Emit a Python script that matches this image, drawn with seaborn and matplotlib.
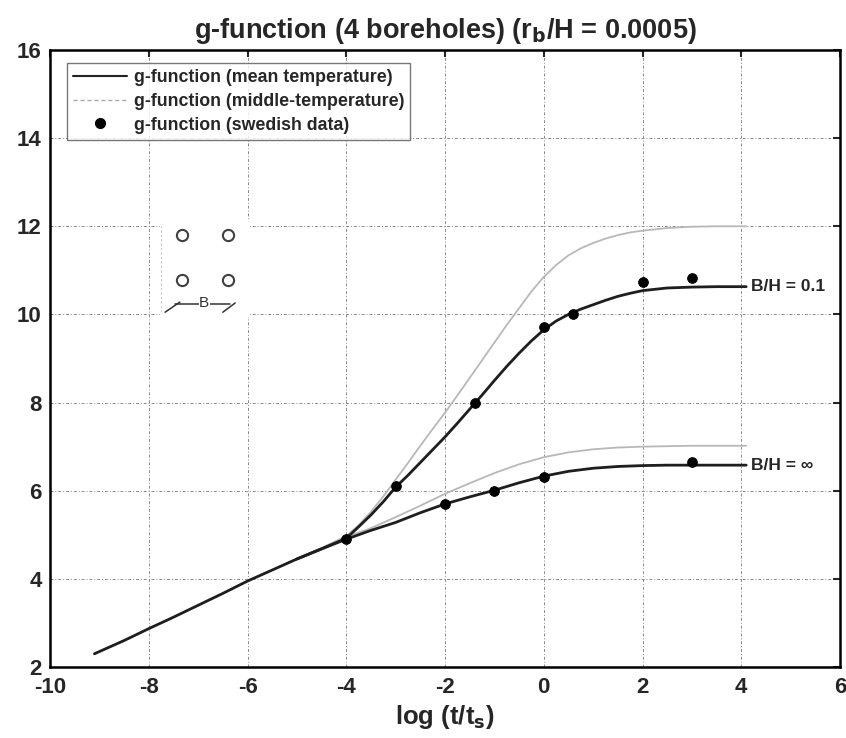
import numpy as np
import pandas as pd
import matplotlib
matplotlib.use("Agg")
import matplotlib.pyplot as plt
from matplotlib.lines import Line2D
from matplotlib.patches import Rectangle
import seaborn as sns

# ---- data ----
# B/H = infinity
logt_low = [-9.1, -8.5, -8, -7.5, -7, -6.5, -6, -5.5, -5, -4.5, -4, -3.5, -3, -2.5, -2, -1.5, -1,
            -0.5, 0, 0.5, 1, 1.5, 2, 2.5, 3, 3.5, 4.1]
g_mean_inf = [2.3, 2.6, 2.87, 3.13, 3.4, 3.67, 3.95, 4.2, 4.45, 4.68, 4.9, 5.1, 5.28, 5.5, 5.7, 5.86, 6.01,
              6.18, 6.33, 6.44, 6.51, 6.55, 6.57, 6.58, 6.58, 6.58, 6.58]
g_mid_inf = [2.3, 2.6, 2.87, 3.13, 3.4, 3.67, 3.95, 4.2, 4.46, 4.7, 4.95, 5.15, 5.4, 5.66, 5.93, 6.17, 6.4,
             6.6, 6.76, 6.87, 6.94, 6.98, 7.0, 7.01, 7.02, 7.02, 7.02]

# B/H = 0.1
logt_up = [-5, -4.5, -4, -3.75, -3.5, -3.25, -3, -2.75, -2.5, -2.25, -2, -1.75, -1.5, -1.25, -1, -0.75,
           -0.5, -0.25, 0, 0.25, 0.5, 0.75, 1, 1.25, 1.5, 1.75, 2, 2.5, 3, 3.5, 4.1]
g_mean_01 = [4.45, 4.68, 4.92, 5.18, 5.45, 5.75, 6.08, 6.35, 6.64, 6.93, 7.22, 7.53, 7.85, 8.17, 8.5, 8.82,
             9.12, 9.4, 9.65, 9.85, 10.0, 10.12, 10.22, 10.32, 10.41, 10.48, 10.54, 10.6, 10.62, 10.63, 10.63]
g_mid_01 = [4.46, 4.7, 4.97, 5.22, 5.52, 5.87, 6.25, 6.63, 7.02, 7.4, 7.77, 8.16, 8.56, 8.96, 9.36, 9.76,
            10.14, 10.52, 10.85, 11.12, 11.34, 11.5, 11.62, 11.72, 11.8, 11.86, 11.9, 11.96, 11.99, 12.0, 12.0]

# Swedish data points
swed_x_inf = [-4, -2, -1, 0, 3]
swed_y_inf = [4.9, 5.7, 6.0, 6.3, 6.65]
swed_x_01 = [-3, -1.4, 0, 0.6, 2, 3]
swed_y_01 = [6.1, 8.0, 9.72, 10.0, 10.73, 10.83]

xticks = [-10, -8, -6, -4, -2, 0, 2, 4, 6]
yticks = [2, 4, 6, 8, 10, 12, 14, 16]

title = "g-function (4 boreholes) (r$_\\mathbf{b}$/H = 0.0005)"
xlabel = "log (t/t$_\\mathbf{s}$)"
legend_labels = ["g-function (mean temperature)", "g-function (middle-temperature)", "g-function (swedish data)"]
curve_labels = ["B/H = 0.1", "B/H = \u221e"]

# ---- build frames ----
df_lines = pd.concat([
    pd.DataFrame({"x": logt_low, "y": g_mean_inf, "kind": "mean", "case": "inf"}),
    pd.DataFrame({"x": logt_low, "y": g_mid_inf, "kind": "mid", "case": "inf"}),
    pd.DataFrame({"x": logt_up, "y": g_mean_01, "kind": "mean", "case": "0.1"}),
    pd.DataFrame({"x": logt_up, "y": g_mid_01, "kind": "mid", "case": "0.1"}),
], ignore_index=True)
df_pts = pd.DataFrame({"x": swed_x_inf + swed_x_01, "y": swed_y_inf + swed_y_01})

sns.set_style("white")
plt.rcParams["font.family"] = ["Liberation Sans", "DejaVu Sans"]
plt.rcParams["font.weight"] = "bold"
plt.rcParams["mathtext.default"] = "bf"

fig = plt.figure(figsize=(8.46, 7.38), dpi=100)
ax = fig.add_axes([50/846, 1-667/738, (840-50)/846, (667-50)/738])

for case in ["inf", "0.1"]:
    sub = df_lines[(df_lines["kind"] == "mid") & (df_lines["case"] == case)]
    sns.lineplot(data=sub, x="x", y="y", ax=ax, color="#b8b8b8", lw=1.3, sort=False, zorder=3)
for case in ["inf", "0.1"]:
    sub = df_lines[(df_lines["kind"] == "mean") & (df_lines["case"] == case)]
    sns.lineplot(data=sub, x="x", y="y", ax=ax, color="#1e1e1e", lw=2.0, sort=False, zorder=4)
sns.scatterplot(data=df_pts, x="x", y="y", ax=ax, color="black", s=50, edgecolor="black", zorder=5)

ax.set_xlim(-10, 6)
ax.set_ylim(2, 16)
ax.set_xticks(xticks)
ax.set_yticks(yticks)
ax.set_xticklabels([str(t) for t in xticks], fontsize=16, fontweight="bold")
ax.set_yticklabels([str(t) for t in yticks], fontsize=16, fontweight="bold")
ax.tick_params(axis="x", direction="in", length=5, width=1.5, top=True, pad=7)
ax.tick_params(axis="y", direction="in", length=5, width=1.5, right=True, pad=6)
ax.grid(True, color="#8a8a8a", linestyle=(0, (3, 2, 1, 2)), linewidth=0.7)
for s in ax.spines.values():
    s.set_linewidth(1.8)
    s.set_color("black")
ax.set_xlabel(xlabel, fontsize=18.5, fontweight="bold", labelpad=4)
ax.set_ylabel("")
ax.set_title(title, fontsize=19.5, fontweight="bold", pad=9)

# curve labels
ax.text(4.2, g_mean_01[-1], curve_labels[0], fontsize=12.5, fontweight="bold", va="center", ha="left")
ax.text(4.2, g_mean_inf[-1], curve_labels[1], fontsize=12.5, fontweight="bold", va="center", ha="left")

# borehole layout sketch
ax.add_patch(Rectangle((-7.77, 9.94), 1.82, 2.23, facecolor="white", edgecolor="none", zorder=2.5))
ax.plot([-7.75, -7.75], [10.05, 12.0], color="#c8c8c8", lw=0.8, linestyle=(0, (2, 2)), zorder=2.6)
bx = [-7.33, -6.395, -7.33, -6.395]
by = [11.8, 11.8, 10.77, 10.77]
ax.scatter(bx, by, s=65, facecolor="white", edgecolor="#404040", linewidths=1.5, zorder=6)
ax.plot([-7.47, -6.355], [10.24, 10.24], color="#333333", lw=1.1, zorder=6)
ax.plot([-7.67, -7.37], [10.05, 10.28], color="#333333", lw=1.1, zorder=6)
ax.plot([-6.5, -6.25], [10.05, 10.26], color="#333333", lw=1.1, zorder=6)
ax.text(-6.88, 10.25, "B", fontsize=11, ha="center", va="center", color="#333333",
        fontweight="normal", zorder=7, bbox=dict(facecolor="white", edgecolor="none", pad=0.3))

handles = [
    Line2D([0], [0], color="#222222", lw=1.5),
    Line2D([0], [0], color="#aaaaaa", lw=1.0, linestyle=(0, (3, 2))),
    Line2D([0], [0], color="black", marker="o", lw=0, markersize=7),
]
leg = ax.legend(handles, legend_labels, loc="upper left", bbox_to_anchor=(0.0215, 0.979),
                borderaxespad=0, fontsize=12.8, frameon=True, fancybox=False, edgecolor="#555555",
                handlelength=3.0, labelspacing=0.38, borderpad=0.35, handletextpad=0.4)
leg.get_frame().set_linewidth(1.0)
for t in leg.get_texts():
    t.set_fontweight("bold")

fig.savefig("out.png", dpi=100, facecolor="white")
